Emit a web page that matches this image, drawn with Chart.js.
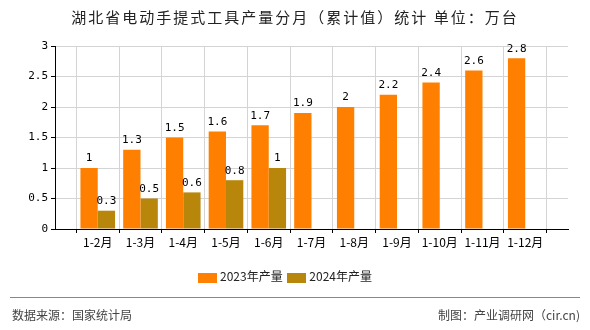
<!DOCTYPE html>
<html>
<head>
<meta charset="utf-8">
<script src="https://cdn.jsdelivr.net/npm/chart.js@4.4.0/dist/chart.umd.min.js"></script>
<style>
  body { margin: 0; background: #fff; font-family: "Noto Sans CJK SC", sans-serif; }
  #wrap { position: relative; width: 590px; height: 330px; }
  #graphCanvas { position: absolute; left: 0; top: 0; }
  .title { position: absolute; top: 6px; left: 0; width: 590px; text-align: center; font-size: 15px; letter-spacing: 2px; color: #222; }
  .legend { position: absolute; top: 267px; left: -10px; width: 590px; text-align: center; font-size: 12px; color: #222; }
  .legend span.box { display: inline-block; width: 19px; height: 10px; vertical-align: middle; margin-right: 3px; }
  .legend span.item { margin: 0 1px; }
  .rule { position: absolute; top: 297px; left: 10px; width: 570px; border-top: 1px solid #888; }
  .foot { position: absolute; top: 306px; font-size: 12px; color: #444; }
</style>
</head>
<body>
<div id="wrap">
  <canvas id="graphCanvas" width="590" height="330"></canvas>
  <div class="title">湖北省电动手提式工具产量分月（累计值）统计 单位：万台</div>
  <div class="legend">
    <span class="item"><span class="box" style="background:#ff8000"></span>2023年产量</span>
    <span class="item"><span class="box" style="background:#b8860b"></span>2024年产量</span>
  </div>
  <div class="rule"></div>
  <div class="foot" style="left:12px">数据来源：国家统计局</div>
  <div class="foot" style="right:10px">制图：产业调研网（cir.cn)</div>
</div>
<script>
var months = ['1-2月', '1-3月', '1-4月', '1-5月', '1-6月', '1-7月', '1-8月', '1-9月', '1-10月', '1-11月', '1-12月'];
var output2023 = [1, 1.3, 1.5, 1.6, 1.7, 1.9, 2, 2.2, 2.4, 2.6, 2.8];
var output2024 = [0.3, 0.5, 0.6, 0.8, 1];
var yTicks = [0, 0.5, 1, 1.5, 2, 2.5, 3];

// empty slots at both ends so labels sit on grid lines
var labels = [''].concat(months).concat(['']);
function pad(arr) {
    var out = [null];
    for (var i = 0; i < months.length; i++) {
        out.push(i < arr.length ? arr[i] : null);
    }
    out.push(null);
    return out;
}

var valueLabels = {
    id: 'valueLabels',
    afterDatasetsDraw: function (chart) {
        var ctx = chart.ctx;
        ctx.save();
        ctx.font = '11px "DejaVu Sans Mono", monospace';
        ctx.fillStyle = '#000';
        ctx.textAlign = 'center';
        ctx.textBaseline = 'bottom';
        chart.data.datasets.forEach(function (ds, d) {
            chart.getDatasetMeta(d).data.forEach(function (bar, i) {
                if (ds.data[i] == null) return;
                ctx.fillText(String(ds.data[i]), bar.x, bar.y - 4);
            });
        });
        ctx.restore();
    }
};

new Chart(document.getElementById('graphCanvas'), {
    type: 'bar',
    data: {
        labels: labels,
        datasets: [
            { label: '2023年产量', data: pad(output2023), backgroundColor: '#ff8000' },
            { label: '2024年产量', data: pad(output2024), backgroundColor: '#b8860b' }
        ]
    },
    options: {
        responsive: false,
        animation: false,
        categoryPercentage: 0.81,
        barPercentage: 1,
        layout: { padding: { left: 0, top: 46, right: 22, bottom: 81 } },
        plugins: { legend: { display: false }, tooltip: { enabled: false } },
        scales: {
            x: {
                offset: false,
                grid: { color: '#d4d4d4', tickColor: '#000', tickLength: 4 },
                border: { color: '#000' },
                ticks: { color: '#000', font: { size: 12, family: '"Noto Sans CJK SC"' }, maxRotation: 0, autoSkip: false, padding: 2 },
                afterFit: function (s) { s.height = 20; }
            },
            y: {
                min: 0,
                max: 3,
                afterBuildTicks: function (s) { s.ticks = yTicks.map(function (v) { return { value: v }; }); },
                grid: { color: '#d4d4d4', tickColor: '#000', tickLength: 4 },
                border: { color: '#000' },
                ticks: {
                    color: '#000',
                    font: { size: 11, family: '"DejaVu Sans Mono"' },
                    padding: 3,
                    callback: function (v) { return String(v); }
                },
                afterFit: function (s) { s.width = 55; }
            }
        }
    },
    plugins: [valueLabels]
});
</script>
</body>
</html>
